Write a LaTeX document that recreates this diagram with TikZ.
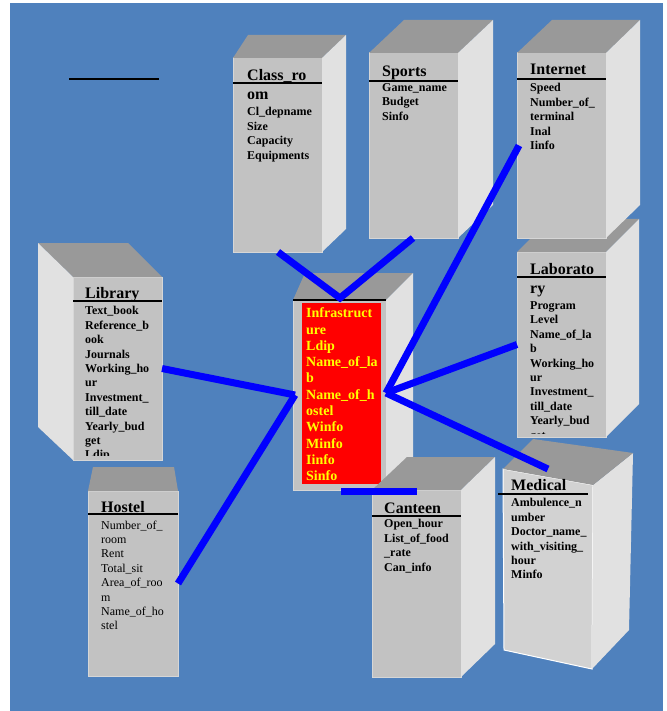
\documentclass[tikz,border=0pt]{standalone}
\usepackage{fontspec}
\setmainfont{Liberation Serif}

\definecolor{sfondo}{RGB}{79,129,189}
\definecolor{fronte}{RGB}{194,194,194}
\definecolor{bordo}{RGB}{214,214,214}
\definecolor{sopra}{RGB}{153,153,153}
\definecolor{lato}{RGB}{225,225,225}
\definecolor{frontechiaro}{RGB}{210,210,210}
\definecolor{giallo}{RGB}{255,255,0}

\tikzset{
    frontface/.style={fill=fronte, draw=bordo, line width=1pt, anchor=north west, inner sep=0pt, outer sep=0pt},
    topface/.style={fill=sopra},
    sideface/.style={fill=lato},
    title/.style={font=\bfseries\fontsize{16}{18}\selectfont, anchor=base west, inner sep=0pt},
    attr/.style={font=\bfseries\fontsize{12}{14.4}\selectfont, align=left, anchor=north west, yshift=7.6pt, inner sep=0pt, execute at begin node=\strut},
    plainattr/.style={attr, font=\fontsize{12}{14.4}\selectfont},
    infratext/.style={font=\bfseries\fontsize{14}{16.3}\selectfont, text=giallo, align=left, anchor=north west, yshift=9.3pt, inner sep=0pt, execute at begin node=\strut},
    rule/.style={draw=black, line width=2pt},
    link/.style={draw=blue, line width=7pt}
}

% nome, x, y, larghezza, altezza, spostamento sinistro, destro, profondita
\newcommand{\tabella}[8]{%
    \node[frontface, minimum width=#4pt, minimum height=#5pt] (#1) at (#2,#3) {};
    \fill[topface] (#1.north west) -- ++(#6,-#8) -- ([xshift=#7pt,yshift=#8pt]#1.north east) -- (#1.north east) -- cycle;
    \fill[sideface] (#1.north east) -- ++(#7,-#8) -- ([xshift=#7pt,yshift=#8pt]#1.south east) -- (#1.south east) -- cycle;
}

\begin{document}
\begin{tikzpicture}[x=1pt, y=-1pt]
        \useasboundingbox (0,0) rectangle (666,711);
        % Sfondo
        \fill[white] (0,0) rectangle (666,711);
        \fill[sfondo] (10,3) rectangle (663,711);
        \draw[line width=1.5pt] (69,79) -- (159,79);

        % Tabelle
        \tabella{classroom}{233}{58}{89}{194}{15}{24}{23}
        \node[title] (classroomtitle) at (247,81) {Class\_ro};
        \node[title] (classroomtitlebis) at (247,100) {om};
        \node[attr] (classroomattr) at (247,115) {Cl\_depname\\Size\\Capacity\\Equipments};
        \draw[rule] ([yshift=-25pt]classroom.north west) -- ([yshift=-25pt]classroom.north east);

        \tabella{sports}{369}{53}{89}{185}{35}{35}{33}
        \node[title] (sportstitle) at (382,77) {Sports};
        \node[attr] (sportsattr) at (382,91) {Game\_name\\Budget\\Sinfo};
        \draw[rule] ([yshift=-28pt]sports.north west) -- ([yshift=-28pt]sports.north east);

        \tabella{laboratory}{517}{252}{89}{185}{33}{33}{33}
        \node[title] (labtitle) at (530,274) {Laborato};
        \node[title] (labtitlebis) at (530,293) {ry};
        \begin{scope}
            \clip (517,300) rectangle (606,433);
            \node[attr] (labattr) at (530,309) {Program\\Level\\Name\_of\_la\\b\\Working\_ho\\ur\\Investment\_\\till\_date\\Yearly\_bud\\get};
        \end{scope}
        \draw[rule] ([yshift=-25pt]laboratory.north west) -- ([yshift=-25pt]laboratory.north east);

        \tabella{internet}{517}{53}{89}{185}{35}{34}{33}
        \node[title] (internettitle) at (530,75) {Internet};
        \node[attr] (internetattr) at (530,91) {Speed\\Number\_of\_\\terminal\\Inal\\Iinfo};
        \draw[rule] ([yshift=-26pt]internet.north west) -- ([yshift=-26pt]internet.north east);

        \node[frontface, minimum width=89pt, minimum height=183pt] (library) at (73,277) {};
        \fill[topface] (library.north west) -- ++(-35,-34) -- ++(90,0) -- (library.north east) -- cycle;
        \fill[sideface] (library.north west) -- ++(-35,-34) -- ++(0,184) -- (library.south west) -- cycle;
        \node[title] (librarytitle) at (85,298) {Library};
        \begin{scope}
            \clip (73,302) rectangle (162,455);
            \node[attr] (libraryattr) at (85,314) {Text\_book\\Reference\_b\\ook\\Journals\\Working\_ho\\ur\\Investment\_\\till\_date\\Yearly\_bud\\get\\Ldip};
        \end{scope}
        \draw[rule] ([yshift=-24pt]library.north west) -- ([yshift=-24pt]library.north east);

        \tabella{infrastructure}{293}{300}{93}{190}{12}{27}{27}
        \node[fill=red, anchor=north west, inner sep=0pt, minimum width=79pt, minimum height=181pt] (infra) at (302,303) {};
        \node[infratext] (infraattr) at (306,317) {Infrastruct\\ure\\Ldip\\Name\_of\_la\\b\\Name\_of\_h\\ostel\\Winfo\\Minfo\\Iinfo\\Sinfo};
        \draw[line width=1.5pt] (infrastructure.north west) -- (infrastructure.north east);

        \node[frontface, minimum width=90pt, minimum height=185pt] (hostel) at (88,491) {};
        \fill[topface] (hostel.north west) -- ++(5,-24) -- ++(81,0) -- (hostel.north east) -- cycle;
        \node[title] (hosteltitle) at (101,512) {Hostel};
        \node[plainattr] (hostelattr) at (101,528) {Number\_of\_\\room\\Rent\\Total\_sit\\Area\_of\_roo\\m\\Name\_of\_ho\\stel};
        \draw[rule] ([yshift=-23pt]hostel.north west) -- ([yshift=-23pt]hostel.north east);

        \tabella{canteen}{372}{490}{89}{187}{35}{34}{33}
        \node[title] (canteentitle) at (384,513) {Canteen};
        \node[attr] (canteenattr) at (384,527) {Open\_hour\\List\_of\_food\\\_rate\\Can\_info};
        \draw[rule] ([yshift=-26pt]canteen.north west) -- ([yshift=-26pt]canteen.north east);

        \fill[frontechiaro, draw=white, line width=1pt] (503,469) -- (593,485) -- (592,669) -- (504,650) -- cycle;
        \fill[sideface] (593,485) -- (633,453) -- (629,630) -- (592,669) -- cycle;
        \fill[topface] (503,469) -- (533,439) -- (633,453) -- (593,485) -- cycle;
        \node[title] (medical) at (511,490) {Medical};
        \node[attr] (medicalattr) at (511,506) {Ambulence\_n\\umber\\Doctor\_name\_\\with\_visiting\_\\hour\\Minfo};
        \draw[rule] (498,494) -- (588,494);
        \coordinate (medtop) at (548,469);

        % Collegamenti
        \draw[link] ([xshift=45pt]classroom.south west) -- ([xshift=47pt,yshift=2pt]infrastructure.north west) -- ([xshift=44pt]sports.south west);
        \draw[link] ([xshift=2pt]internet.west) -- ([yshift=2pt]infrastructure.east);
        \draw[link] (laboratory.west) -- ([yshift=2pt]infrastructure.east);
        \draw[link] (medtop) -- ([yshift=2pt]infrastructure.east);
        \draw[link] (library.east) -- ([xshift=2pt]infrastructure.west);
        \draw[link] (hostel.east) -- ([xshift=2pt]infrastructure.west);
        \draw[link] ([xshift=48pt,yshift=-1pt]infrastructure.south west) -- ([xshift=45pt,yshift=-1pt]canteen.north west);
\end{tikzpicture}
\end{document}
